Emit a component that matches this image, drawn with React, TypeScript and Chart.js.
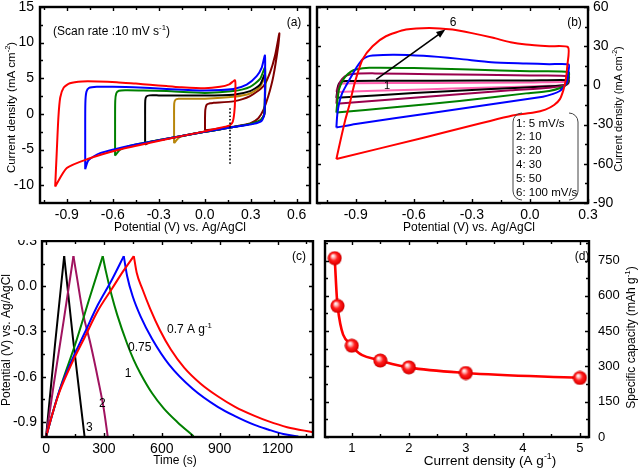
import React, { useEffect, useRef } from 'react';
import { Chart, registerables } from 'chart.js';

Chart.register(...registerables);

const FONT = '"Liberation Sans", Arial, Helvetica, sans-serif';

// ---------------- Panel (a): CV at 10 mV/s, different potential windows ----------------
const aXTicks = [-0.9, -0.6, -0.3, 0.0, 0.3, 0.6];
const aYTicks = [-10, -5, 0, 5, 10, 15];
const aRed = [[-0.976, -10.2], [-0.966, -5.5], [-0.955, -0.5], [-0.943, 2.3], [-0.92, 3.7], [-0.88, 4.3], [-0.8, 4.55], [-0.7, 4.55], [-0.574, 4.45], [-0.45, 4.25], [-0.357, 4.1], [-0.25, 3.9], [-0.161, 3.75], [0, 3.6], [0.1, 3.8], [0.16, 4.15], [0.198, 4.7], [0.198, 2], [0.193, 0.2], [0.183, -1.1], [0.165, -1.6], [0.143, -1.75], [0.07, -2.1], [0, -2.45], [-0.16, -3.15], [-0.357, -4.05], [-0.574, -5.1], [-0.759, -6.3], [-0.9, -7.6], [-0.976, -10.2]];
const aBlue = [[-0.78, -7.76], [-0.78, -3], [-0.779, 1.5], [-0.772, 3.1], [-0.755, 3.65], [-0.704, 3.8], [-0.6, 3.8], [-0.465, 3.75], [-0.248, 3.5], [0, 3.3], [0.187, 3.5], [0.274, 4.1], [0.339, 5.3], [0.372, 6.5], [0.393, 8.2], [0.393, 4.4], [0.39, 0.1], [0.372, -0.95], [0.317, -1.4], [0.187, -1.85], [0, -2.5], [-0.248, -3.5], [-0.465, -4.35], [-0.683, -5.5], [-0.759, -6.5], [-0.78, -7.76]];
const aGreen = [[-0.585, -5.86], [-0.585, -1.5], [-0.584, 1.8], [-0.577, 2.9], [-0.56, 3.25], [-0.52, 3.33], [-0.4, 3.3], [-0.248, 3.2], [0, 2.95], [0.187, 3.2], [0.296, 3.8], [0.361, 4.9], [0.393, 6.5], [0.393, 3], [0.387, -0.15], [0.361, -0.95], [0.3, -1.4], [0.187, -1.85], [0, -2.5], [-0.248, -3.5], [-0.465, -4.35], [-0.552, -5], [-0.585, -5.86]];
const aBlack = [[-0.389, -4.3], [-0.389, -1], [-0.388, 1.9], [-0.38, 2.45], [-0.36, 2.6], [-0.3, 2.6], [0, 2.57], [0.187, 2.7], [0.296, 3.2], [0.361, 4.1], [0.393, 5.6], [0.393, 2], [0.388, -0.15], [0.361, -0.95], [0.3, -1.4], [0.187, -1.85], [0, -2.5], [-0.248, -3.5], [-0.357, -3.95], [-0.389, -4.3]];
const aGold = [[-0.2, -4.1], [-0.2, -1], [-0.199, 1.5], [-0.19, 2.0], [-0.17, 2.12], [-0.117, 2.14], [0, 2.14], [0.187, 2.4], [0.296, 2.86], [0.361, 3.8], [0.393, 5.1], [0.393, 2], [0.388, -0.15], [0.361, -0.95], [0.3, -1.4], [0.187, -1.85], [0, -2.5], [-0.161, -3.2], [-0.2, -4.1]];
const aMaroon = [[0.002, -2.3], [0.002, -0.5], [0.004, 0.6], [0.013, 1.3], [0.035, 1.5], [0.057, 1.55], [0.187, 1.76], [0.296, 2.5], [0.383, 3.9], [0.426, 5.8], [0.459, 8.2], [0.487, 11.3], [0.48, 9.6], [0.448, 5.3], [0.415, 2.5], [0.383, 0.57], [0.35, -0.6], [0.296, -1.33], [0.187, -1.8], [0.1, -2.05], [0.002, -2.3]];
const aMarkerV = 0.165;
const aMarkerI = [0.8, -7];

// ---------------- Panel (b): CV at different scan rates ----------------
const bXTicks = [-0.9, -0.6, -0.3, 0.0, 0.3];
const bYTicks = [-90, -60, -30, 0, 30, 60];
const bRed = [[-1.0, -56.4], [-0.977, -41], [-0.955, -27], [-0.934, -15.8], [-0.917, -5], [-0.9, 4.6], [-0.865, 19.8], [-0.813, 30], [-0.744, 37.6], [-0.64, 42.7], [-0.52, 44], [-0.4, 42.7], [-0.3, 40], [-0.19, 36.4], [-0.1, 33], [-0.02, 31.3], [0.1, 30], [0.197, 29.2], [0.193, 15], [0.185, 4], [0.172, -4], [0.154, -10.7], [0.125, -15], [0.08, -18.5], [0.02, -20.8], [-0.09, -23], [-0.55, -40], [-1.0, -56.4]];
const bBlue = [[-1.0, -32.3], [-0.995, -22], [-0.985, -13.2], [-0.97, -6], [-0.951, -0.5], [-0.917, 8.4], [-0.89, 15], [-0.865, 19.8], [-0.84, 22], [-0.813, 22.9], [-0.7, 23.5], [-0.55, 22.6], [-0.364, 20.3], [-0.2, 17.8], [-0.02, 16.8], [0.1, 16.2], [0.2, 16], [0.198, 10], [0.19, 2], [0.17, -2], [0.154, -4.3], [0.12, -6.5], [0.067, -8.6], [-0.5, -21], [-0.9, -29.5], [-1.0, -32.3]];
const bGreen = [[-1.0, -20.8], [-0.993, -10], [-0.986, -3], [-0.97, 3], [-0.951, 7.1], [-0.925, 10.5], [-0.9, 12.2], [-0.83, 13.5], [-0.6, 13.3], [-0.31, 12.2], [0, 10.8], [0.2, 10.2], [0.198, 5], [0.19, 1], [0.16, -1.8], [0.1, -4.2], [-0.02, -6.1], [-0.364, -12], [-0.7, -16.7], [-1.0, -20.8]];
const bMaroon = [[-1.0, -14], [-0.995, -6], [-0.985, 1], [-0.97, 5], [-0.945, 7.8], [-0.9, 8.9], [-0.8, 9.2], [-0.5, 8.6], [0, 7.6], [0.2, 7.1], [0.198, 3], [0.18, 0.2], [0.1, -1.8], [-0.1, -3.8], [-0.5, -8.3], [-1.0, -14]];
const bBlack = [[-1.0, -9.5], [-0.995, -4], [-0.988, 1], [-0.975, 2.8], [-0.95, 3.4], [-0.8, 3.6], [-0.5, 3.6], [0, 3.8], [0.2, 4], [0.198, 2], [0.185, 0.4], [0.1, -0.6], [-0.2, -2.8], [-0.6, -5.9], [-1.0, -9.5]];
const bPink = [[-1.0, -5], [-0.995, -1.5], [-0.985, 0.6], [-0.96, 1.4], [-0.9, 1.6], [-0.5, 1.9], [0, 2.2], [0.2, 2.5], [0.198, 1.2], [0.185, 0.2], [0.1, -0.3], [-0.2, -1.6], [-0.6, -3.3], [-1.0, -5]];
const bArrowFrom = [-0.794, 4.6];
const bArrowTo = [-0.437, 42.7];
const bLegend = ['1: 5 mV/s', '2: 10', '3: 20', '4: 30', '5: 50', '6: 100 mV/s'];

// ---------------- Panel (c): GCD curves ----------------
const cXTicks = [0, 300, 600, 900, 1200];
const cYTicks = [-0.9, -0.6, -0.3, 0.0, 0.3];
const cBlackCh = [[0, -1.0], [47, -0.38], [94, 0.2]];
const cBlackDis = [[94, 0.2], [140, -0.35], [200, -1.0]];
const cPurpleCh = [[0, -1.0], [40, -0.65], [90, -0.24], [142, 0.2]];
const cPurpleDis = [[142, 0.2], [160, 0.06], [190, -0.17], [230, -0.38], [270, -0.62], [300, -0.82], [320, -1.0]];
const cGreenCh = [[0, -1.0], [30, -0.86], [80, -0.65], [150, -0.39], [230, -0.06], [294, 0.2]];
const cGreenDis = [[294, 0.2], [310, 0.1], [340, -0.06], [369, -0.19], [420, -0.38], [455, -0.49], [490, -0.58], [550, -0.71], [610, -0.81], [680, -0.9], [765, -0.995]];
const cBlueCh = [[0, -1.0], [30, -0.86], [70, -0.69], [134, -0.49], [200, -0.31], [270, -0.12], [340, 0.04], [403, 0.2]];
const cBlueDis = [[403, 0.2], [420, 0.07], [450, -0.07], [490, -0.2], [550, -0.35], [638, -0.52], [760, -0.68], [890, -0.8], [977, -0.86], [1081, -0.92], [1151, -0.95], [1230, -0.98], [1308, -0.997]];
const cRedCh = [[0, -1.0], [30, -0.86], [70, -0.7], [134, -0.51], [200, -0.34], [270, -0.16], [340, -0.02], [400, 0.1], [455, 0.2]];
const cRedDis = [[455, 0.2], [470, 0.09], [500, -0.02], [540, -0.15], [590, -0.29], [647, -0.42], [716, -0.54], [800, -0.645], [890, -0.73], [980, -0.8], [1081, -0.86], [1151, -0.895], [1250, -0.935], [1384, -0.968]];

// ---------------- Panel (d): specific capacity vs current density ----------------
const dXTicks = [1, 2, 3, 4, 5];
const dYTicks = [0, 150, 300, 450, 600, 750];
const dCurrent = [0.7, 0.75, 1, 1.5, 2, 3, 5];
const dCapacity = [760, 557, 388, 325, 296, 272, 251];

// ---------------- helpers ----------------
const pts = (p: number[][]) => p.map(([x, y]) => ({ x, y }));

function lineDs(p: number[][], color: string, width = 2, extra: any = {}) {
  return { data: pts(p), borderColor: color, backgroundColor: color, borderWidth: width, pointRadius: 0, showLine: true, tension: 0, fill: false, borderJoinStyle: 'round', ...extra };
}

function parseRich(s: string) {
  const out: { t: string; sup: boolean }[] = [];
  const re = /\^\{([^}]*)\}/g;
  let last = 0;
  let m: any;
  while ((m = re.exec(s))) {
    if (m.index > last) out.push({ t: s.slice(last, m.index), sup: false });
    out.push({ t: m[1], sup: true });
    last = re.lastIndex;
  }
  if (last < s.length) out.push({ t: s.slice(last), sup: false });
  return out;
}

function drawRich(ctx: CanvasRenderingContext2D, text: string, x: number, y: number, size: number, align = 'center', rot = 0) {
  const segs = parseRich(text);
  const supSize = size * 0.65;
  ctx.save();
  ctx.translate(x, y);
  ctx.rotate(rot);
  ctx.fillStyle = '#000';
  ctx.textBaseline = 'middle';
  ctx.textAlign = 'left';
  let w = 0;
  const widths = segs.map((s) => {
    ctx.font = `${s.sup ? supSize : size}px ${FONT}`;
    const ww = ctx.measureText(s.t).width;
    w += ww;
    return ww;
  });
  let cx = align === 'center' ? -w / 2 : align === 'right' ? -w : 0;
  segs.forEach((s, i) => {
    ctx.font = `${s.sup ? supSize : size}px ${FONT}`;
    ctx.fillText(s.t, cx, s.sup ? -size * 0.36 : 0);
    cx += widths[i];
  });
  ctx.restore();
}

function minorTicks(ticks: number[], min: number, max: number) {
  const half = (ticks[1] - ticks[0]) / 2;
  const out: number[] = [];
  for (let k = -40; k <= 40; k++) {
    if (k % 2 === 0) continue;
    const v = ticks[0] + k * half;
    if (v > min && v < max) out.push(v);
  }
  return out;
}

function linAxis(o: { pos: string; min: number; max: number; ticks: number[]; size: number; pad: number; dec: number; fs?: number }) {
  return {
    type: 'linear',
    position: o.pos,
    min: o.min,
    max: o.max,
    grid: { display: false, drawTicks: false },
    border: { display: false },
    title: { display: false },
    ticks: {
      padding: o.pad,
      color: '#000',
      font: { family: FONT, size: o.fs ?? 14 },
      autoSkip: false,
      maxRotation: 0,
      minRotation: 0,
      callback: (v: any) => Number(v).toFixed(o.dec),
    },
    afterBuildTicks: (s: any) => {
      s.ticks = o.ticks.map((v) => ({ value: v }));
    },
    afterFit: (s: any) => {
      if (o.pos === 'bottom') s.height = o.size;
      else s.width = o.size;
      s.paddingTop = 0;
      s.paddingBottom = 0;
      s.paddingLeft = 0;
      s.paddingRight = 0;
    },
  };
}

function framePlugin(xT: number[], yT: number[], extra: (chart: any) => void) {
  return {
    id: 'frameAndText',
    afterDraw(chart: any) {
      const { ctx, chartArea: ca } = chart;
      const sx = chart.scales.x;
      const sy = chart.scales.y;
      ctx.save();
      ctx.strokeStyle = '#000';
      ctx.lineWidth = 1.4;
      ctx.beginPath();
      const xm = minorTicks(xT, sx.min, sx.max);
      const ym = minorTicks(yT, sy.min, sy.max);
      const hx = (vals: number[], len: number) => {
        vals.forEach((v) => {
          const p = Math.round(sx.getPixelForValue(v)) + 0.5;
          ctx.moveTo(p, ca.bottom);
          ctx.lineTo(p, ca.bottom - len);
          ctx.moveTo(p, ca.top);
          ctx.lineTo(p, ca.top + len);
        });
      };
      const vy = (vals: number[], len: number) => {
        vals.forEach((v) => {
          const p = Math.round(sy.getPixelForValue(v)) + 0.5;
          ctx.moveTo(ca.left, p);
          ctx.lineTo(ca.left + len, p);
          ctx.moveTo(ca.right, p);
          ctx.lineTo(ca.right - len, p);
        });
      };
      hx(xT, 4);
      hx(xm, 3);
      vy(yT, 4);
      vy(ym, 3);
      ctx.stroke();
      ctx.lineWidth = 2.4;
      ctx.strokeRect(ca.left, ca.top, ca.right - ca.left, ca.bottom - ca.top);
      ctx.restore();
      extra(chart);
    },
  };
}

function baseOptions(scales: any, padding: any) {
  return {
    responsive: false,
    animation: false,
    events: [],
    layout: { padding, autoPadding: false },
    plugins: { legend: { display: false }, tooltip: { enabled: false } },
    scales,
  };
}

function makeBall() {
  const c = document.createElement('canvas');
  c.width = 15;
  c.height = 15;
  const g = c.getContext('2d')!;
  const grad = g.createRadialGradient(5.5, 5, 0.3, 7.5, 7.5, 7.2);
  grad.addColorStop(0, '#ffffff');
  grad.addColorStop(0.22, '#ffb0b0');
  grad.addColorStop(0.5, '#ff2020');
  grad.addColorStop(0.85, '#e80000');
  grad.addColorStop(1, '#b00000');
  g.fillStyle = grad;
  g.beginPath();
  g.arc(7.5, 7.5, 7, 0, Math.PI * 2);
  g.fill();
  return c;
}

const CV = { tension: 0.22 };

// ---------------- chart builders ----------------
function buildA(canvas: HTMLCanvasElement) {
  const extra = (chart: any) => {
    const { ctx } = chart;
    const sx = chart.scales.x;
    const sy = chart.scales.y;
    ctx.save();
    ctx.strokeStyle = '#000';
    ctx.lineWidth = 1.6;
    ctx.setLineDash([1.6, 2]);
    ctx.beginPath();
    ctx.moveTo(sx.getPixelForValue(aMarkerV), sy.getPixelForValue(aMarkerI[0]));
    ctx.lineTo(sx.getPixelForValue(aMarkerV), sy.getPixelForValue(aMarkerI[1]));
    ctx.stroke();
    ctx.restore();
    drawRich(ctx, '(Scan rate :10 mV s^{-1})', 53, 32, 12, 'left');
    drawRich(ctx, '(a)', 294, 23, 12);
    drawRich(ctx, 'Potential (V) vs. Ag/AgCl', 180, 228, 12);
    drawRich(ctx, 'Current density (mA cm^{-2})', 12, 107.5, 11.5, 'center', -Math.PI / 2);
  };
  return new Chart(canvas, {
    type: 'scatter',
    data: {
      datasets: [
        lineDs(aRed, '#ff0000', 2, CV),
        lineDs(aBlue, '#0000ff', 2, CV),
        lineDs(aGreen, '#008000', 2, CV),
        lineDs(aBlack, '#000000', 2, CV),
        lineDs(aGold, '#b8860b', 2, CV),
        lineDs(aMaroon, '#800000', 2, CV),
      ],
    } as any,
    options: baseOptions(
      {
        x: linAxis({ pos: 'bottom', min: -1.075, max: 0.687, ticks: aXTicks, size: 37, pad: 4, dec: 1 }),
        y: linAxis({ pos: 'left', min: -12.5, max: 15, ticks: aYTicks, size: 40, pad: 6, dec: 0 }),
      },
      { left: 0, top: 7, right: 4, bottom: 0 }
    ) as any,
    plugins: [framePlugin(aXTicks, aYTicks, extra)],
  });
}

function buildB(canvas: HTMLCanvasElement) {
  const extra = (chart: any) => {
    const { ctx } = chart;
    const sx = chart.scales.x;
    const sy = chart.scales.y;
    const x1 = sx.getPixelForValue(bArrowFrom[0]);
    const y1 = sy.getPixelForValue(bArrowFrom[1]);
    const x2 = sx.getPixelForValue(bArrowTo[0]);
    const y2 = sy.getPixelForValue(bArrowTo[1]);
    const ang = Math.atan2(y2 - y1, x2 - x1);
    ctx.save();
    ctx.strokeStyle = '#000';
    ctx.fillStyle = '#000';
    ctx.lineWidth = 1.6;
    ctx.beginPath();
    ctx.moveTo(x1, y1);
    ctx.lineTo(x2 - 5 * Math.cos(ang), y2 - 5 * Math.sin(ang));
    ctx.stroke();
    ctx.beginPath();
    ctx.moveTo(x2, y2);
    ctx.lineTo(x2 - 9 * Math.cos(ang) + 3.5 * Math.sin(ang), y2 - 9 * Math.sin(ang) - 3.5 * Math.cos(ang));
    ctx.lineTo(x2 - 9 * Math.cos(ang) - 3.5 * Math.sin(ang), y2 - 9 * Math.sin(ang) + 3.5 * Math.cos(ang));
    ctx.closePath();
    ctx.fill();
    // legend brackets
    const L = 199, R = 264, T = 113, B = 200, r = 9;
    ctx.strokeStyle = '#444';
    ctx.lineWidth = 1;
    ctx.beginPath();
    ctx.moveTo(L + r, T);
    ctx.arcTo(L, T, L, T + r, r);
    ctx.lineTo(L, B - r);
    ctx.arcTo(L, B, L + r, B, r);
    ctx.moveTo(R - r, T);
    ctx.arcTo(R, T, R, T + r, r);
    ctx.lineTo(R, B - r);
    ctx.arcTo(R, B, R - r, B, r);
    ctx.stroke();
    ctx.restore();
    bLegend.forEach((t, i) => drawRich(ctx, t, 202, 123.5 + i * 13.8, 11.5, 'left'));
    drawRich(ctx, '6', 139, 23, 12);
    drawRich(ctx, '1', 73, 86, 11);
    drawRich(ctx, '(b)', 260.5, 22.7, 12);
    drawRich(ctx, 'Potential (V) vs. Ag/AgCl', 155, 228, 12);
    drawRich(ctx, 'Current density (mA cm^{-2})', 305, 109, 11, 'center', -Math.PI / 2);
  };
  return new Chart(canvas, {
    type: 'scatter',
    data: {
      datasets: [
        lineDs(bRed, '#ff0000', 2, CV),
        lineDs(bBlue, '#0000ff', 2, CV),
        lineDs(bGreen, '#008000', 2, CV),
        lineDs(bMaroon, '#99004d', 2, CV),
        lineDs(bBlack, '#000000', 2, CV),
        lineDs(bPink, '#ff5fae', 2, CV),
      ],
    } as any,
    options: baseOptions(
      {
        x: linAxis({ pos: 'bottom', min: -1.1, max: 0.3, ticks: bXTicks, size: 37, pad: 4, dec: 1 }),
        y: linAxis({ pos: 'right', min: -90, max: 60, ticks: bYTicks, size: 52, pad: 5, dec: 0 }),
      },
      { left: 3, top: 7, right: 0, bottom: 0 }
    ) as any,
    plugins: [framePlugin(bXTicks, bYTicks, extra)],
  });
}

function buildC(canvas: HTMLCanvasElement) {
  const extra = (chart: any) => {
    const { ctx } = chart;
    drawRich(ctx, '(c)', 299, 16.7, 12);
    drawRich(ctx, '0.7 A g^{-1}', 167, 90, 12, 'left');
    drawRich(ctx, '0.75', 128, 108, 12, 'left');
    drawRich(ctx, '1', 128, 133.3, 12);
    drawRich(ctx, '2', 102.3, 163.3, 12);
    drawRich(ctx, '3', 89.3, 187.7, 12);
    drawRich(ctx, 'Time (s)', 175, 221, 12);
    drawRich(ctx, 'Potential (V) vs. Ag/AgCl', 7, 100, 12, 'center', -Math.PI / 2);
  };
  const m = { cubicInterpolationMode: 'monotone' };
  return new Chart(canvas, {
    type: 'scatter',
    data: {
      datasets: [
        lineDs(cRedCh, '#ff0000', 2, m),
        lineDs(cRedDis, '#ff0000', 2, m),
        lineDs(cBlueCh, '#0000ff', 2, m),
        lineDs(cBlueDis, '#0000ff', 2, m),
        lineDs(cGreenCh, '#008000', 2, m),
        lineDs(cGreenDis, '#008000', 2, m),
        lineDs(cPurpleCh, '#a0135f', 2, m),
        lineDs(cPurpleDis, '#a0135f', 2, m),
        lineDs(cBlackCh, '#000000', 2, m),
        lineDs(cBlackDis, '#000000', 2, m),
      ],
    } as any,
    options: baseOptions(
      {
        x: linAxis({ pos: 'bottom', min: -21, max: 1384, ticks: cXTicks, size: 35, pad: 4, dec: 0 }),
        y: linAxis({ pos: 'left', min: -1.0, max: 0.3, ticks: cYTicks, size: 42, pad: 5, dec: 1 }),
      },
      { left: 0, top: 1, right: 6, bottom: 0 }
    ) as any,
    plugins: [framePlugin(cXTicks, cYTicks, extra)],
  });
}

function buildD(canvas: HTMLCanvasElement) {
  const extra = (chart: any) => {
    const { ctx } = chart;
    drawRich(ctx, '(d)', 263, 16.7, 12);
    drawRich(ctx, 'Current density (A g^{-1})', 171, 221.7, 13.5);
    drawRich(ctx, 'Specific capacity (mAh g^{-1})', 313, 97.5, 12, 'center', -Math.PI / 2);
  };
  const ball = makeBall();
  const data = dCurrent.map((x, i) => [x, dCapacity[i]]);
  return new Chart(canvas, {
    type: 'scatter',
    data: {
      datasets: [
        lineDs(data, '#ff0000', 2.6, { cubicInterpolationMode: 'monotone', pointStyle: ball, pointRadius: 7 }),
      ],
    } as any,
    options: baseOptions(
      {
        x: linAxis({ pos: 'bottom', min: 0.53, max: 5.16, ticks: dXTicks, size: 35, pad: 4, dec: 0, fs: 13 }),
        y: linAxis({ pos: 'right', min: 0, max: 833, ticks: dYTicks, size: 51, pad: 9, dec: 0, fs: 13 }),
      },
      { left: 6, top: 1, right: 0, bottom: 0 }
    ) as any,
    plugins: [framePlugin(dXTicks, dYTicks, extra)],
  });
}

function Panel(props: { left: number; top: number; width: number; height: number; build: (c: HTMLCanvasElement) => Chart }) {
  const ref = useRef<HTMLCanvasElement>(null);
  useEffect(() => {
    const chart = props.build(ref.current!);
    return () => chart.destroy();
  }, []);
  return (
    <canvas
      ref={ref}
      width={props.width}
      height={props.height}
      style={{ position: 'absolute', left: props.left, top: props.top, width: props.width, height: props.height }}
    />
  );
}

export default function App() {
  useEffect(() => {
    document.body.style.margin = '0';
  }, []);
  return (
    <div style={{ position: 'fixed', left: 0, top: 0, width: 640, height: 472, background: '#fff', overflow: 'hidden' }}>
      <Panel left={0} top={0} width={314} height={240} build={buildA} />
      <Panel left={314} top={0} width={326} height={240} build={buildB} />
      <Panel left={0} top={240} width={319} height={232} build={buildC} />
      <Panel left={319} top={240} width={321} height={232} build={buildD} />
    </div>
  );
}
